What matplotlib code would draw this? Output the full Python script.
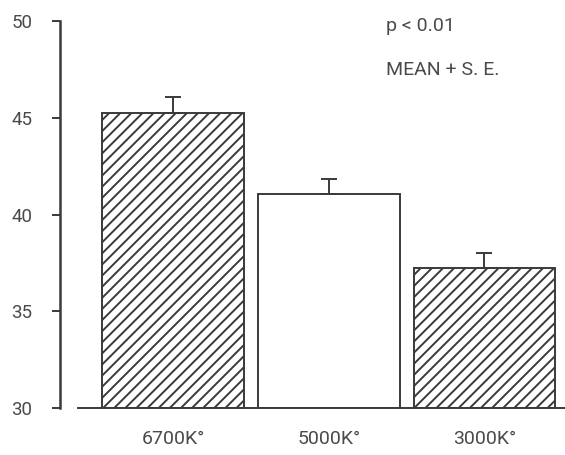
import matplotlib.pyplot as plt
import numpy as np

plt.rcParams['font.family'] = ['Roboto', 'DejaVu Sans']
plt.rcParams['hatch.linewidth'] = 1.4
plt.rcParams['hatch.color'] = '#3a3a3a'

labels = ['6700K°', '5000K°', '3000K°']
means = [45.25, 41.05, 37.25]
se = [0.8, 0.8, 0.75]
hatches = ['///', '', '///']

ink = '#3a3a3a'
txt = '#4a4a4a'

fig = plt.figure(figsize=(5.65, 4.55), dpi=100)
ax = fig.add_axes([60/565, 47/455, 505/565, 387/455])

x = np.arange(len(labels))
bars = ax.bar(x, np.array(means) - 30, bottom=30, width=0.91,
              color='white', edgecolor=ink, linewidth=1.4)
for b, h in zip(bars, hatches):
    b.set_hatch(h)
ax.errorbar(x, means, yerr=[np.zeros(3), se], fmt='none', ecolor=ink,
            elinewidth=1.4, capsize=6, capthick=1.4)

ax.set_xlim(-0.7255, 2.517)
ax.set_ylim(30, 50)
ax.set_yticks([30, 35, 40, 45, 50])
ax.set_xticks(x)
ax.set_xticklabels(labels)

for s in ['top', 'right']:
    ax.spines[s].set_visible(False)
ax.spines['left'].set_color(ink)
ax.spines['left'].set_linewidth(1.8)
ax.spines['bottom'].set_color(ink)
ax.spines['bottom'].set_linewidth(1.4)
ax.spines['bottom'].set_bounds(-0.61, 2.517)

ax.tick_params(axis='y', direction='out', length=6, width=1.4, color=ink,
               labelsize=13.5, labelcolor=txt, pad=14)
ax.tick_params(axis='x', length=0, labelsize=14, labelcolor=txt, pad=16)

ax.text(0.6455, 0.987, 'p < 0.01', transform=ax.transAxes, fontsize=14,
        color=txt, va='center')
ax.text(0.6455, 0.873, 'MEAN + S. E.', transform=ax.transAxes, fontsize=14,
        color=txt, va='center')

fig.savefig('out.png', dpi=100)
